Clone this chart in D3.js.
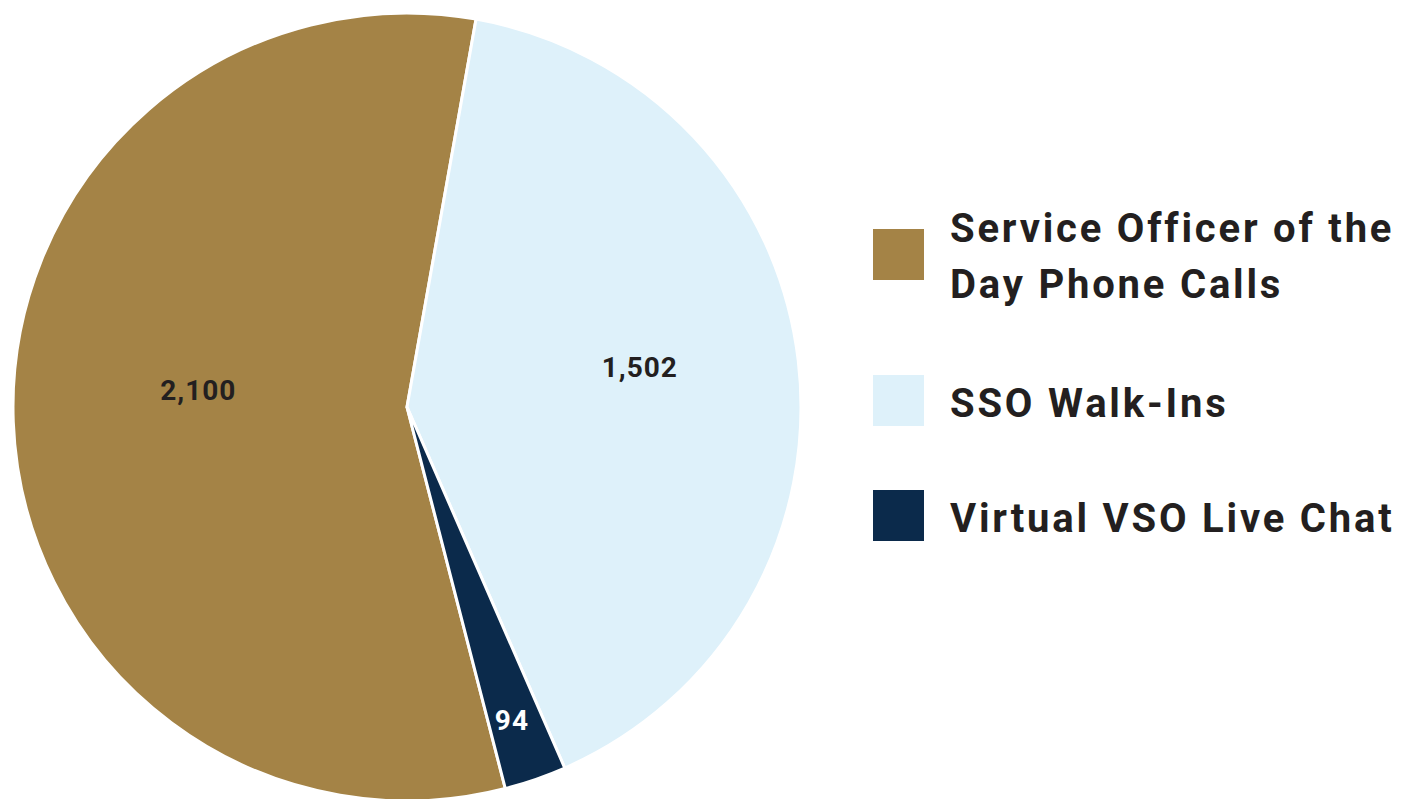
<!DOCTYPE html>
<html>
<head>
    <style>
        body { margin: 0; background: #fff; }
        .slice { stroke: #fff; stroke-width: 3; }
        .value { font-family: Roboto, "DejaVu Sans", sans-serif; font-weight: 700; font-size: 28px; letter-spacing: 1px; text-anchor: middle; }
        .legend text { font-family: Roboto, "DejaVu Sans", sans-serif; font-weight: 700; font-size: 40px; letter-spacing: 2.8px; fill: #231f20; }
    </style>
    <script src="https://d3js.org/d3.v7.min.js"></script>
</head>
<body>

<svg width="1415" height="799"></svg>

<script>

    var categories = ["Service Officer of the Day Phone Calls", "SSO Walk-Ins", "Virtual VSO Live Chat"];
    var legendLines = [["Service Officer of the", "Day Phone Calls"], ["SSO Walk-Ins"], ["Virtual VSO Live Chat"]];
    var values = [2100, 1502, 94];
    var colors = ["#a48346", "#def1fa", "#0b2a4b"];
    var labelColors = ["#231f20", "#231f20", "#ffffff"];
    var labelRadius = [0.53, 0.6, 0.84];
    var labelNudge = [[0, -25], [-2, -12], [-3, 0]];

    var cx = 407, cy = 407, radius = 394;

    var svg = d3.select("svg");

    var data = categories.map(function(c, i) { return { name: c, value: values[i], i: i }; });

    var start = -194.45 * Math.PI / 180;
    var pie = d3.pie()
        .sort(null)
        .value(function(d) { return d.value; })
        .startAngle(start)
        .endAngle(start + 2 * Math.PI);

    var arc = d3.arc().innerRadius(0).outerRadius(radius);

    var g = svg.append("g")
        .attr("transform", "translate(" + cx + "," + cy + ")");

    var arcs = pie(data);

    g.selectAll("path")
        .data(arcs)
        .enter().append("path")
        .attr("class", "slice")
        .attr("fill", function(d) { return colors[d.data.i]; })
        .attr("d", arc);

    var fmt = d3.format(",");

    g.selectAll("text.value")
        .data(arcs)
        .enter().append("text")
        .attr("class", "value")
        .attr("fill", function(d) { return labelColors[d.data.i]; })
        .attr("transform", function(d) {
            var a = (d.startAngle + d.endAngle) / 2;
            var r = radius * labelRadius[d.data.i];
            var n = labelNudge[d.data.i];
            return "translate(" + (Math.sin(a) * r + n[0]) + "," + (-Math.cos(a) * r + n[1]) + ")";
        })
        .attr("dy", "0.35em")
        .text(function(d) { return fmt(d.data.value); });

    // legend
    var legendY = [229, 375, 490];
    var legend = svg.append("g").attr("class", "legend");

    var item = legend.selectAll("g")
        .data(data)
        .enter().append("g")
        .attr("transform", function(d) { return "translate(873," + legendY[d.i] + ")"; });

    item.append("rect")
        .attr("width", 51)
        .attr("height", 51)
        .attr("fill", function(d) { return colors[d.i]; });

    item.each(function(d) {
        var lines = legendLines[d.i];
        var t = d3.select(this).append("text").attr("x", 77);
        var first = lines.length > 1 ? 13 : 42;
        lines.forEach(function(l, k) {
            t.append("tspan")
                .attr("x", 77)
                .attr("y", first + k * 56)
                .text(l);
        });
    });
</script>
</body>
</html>
